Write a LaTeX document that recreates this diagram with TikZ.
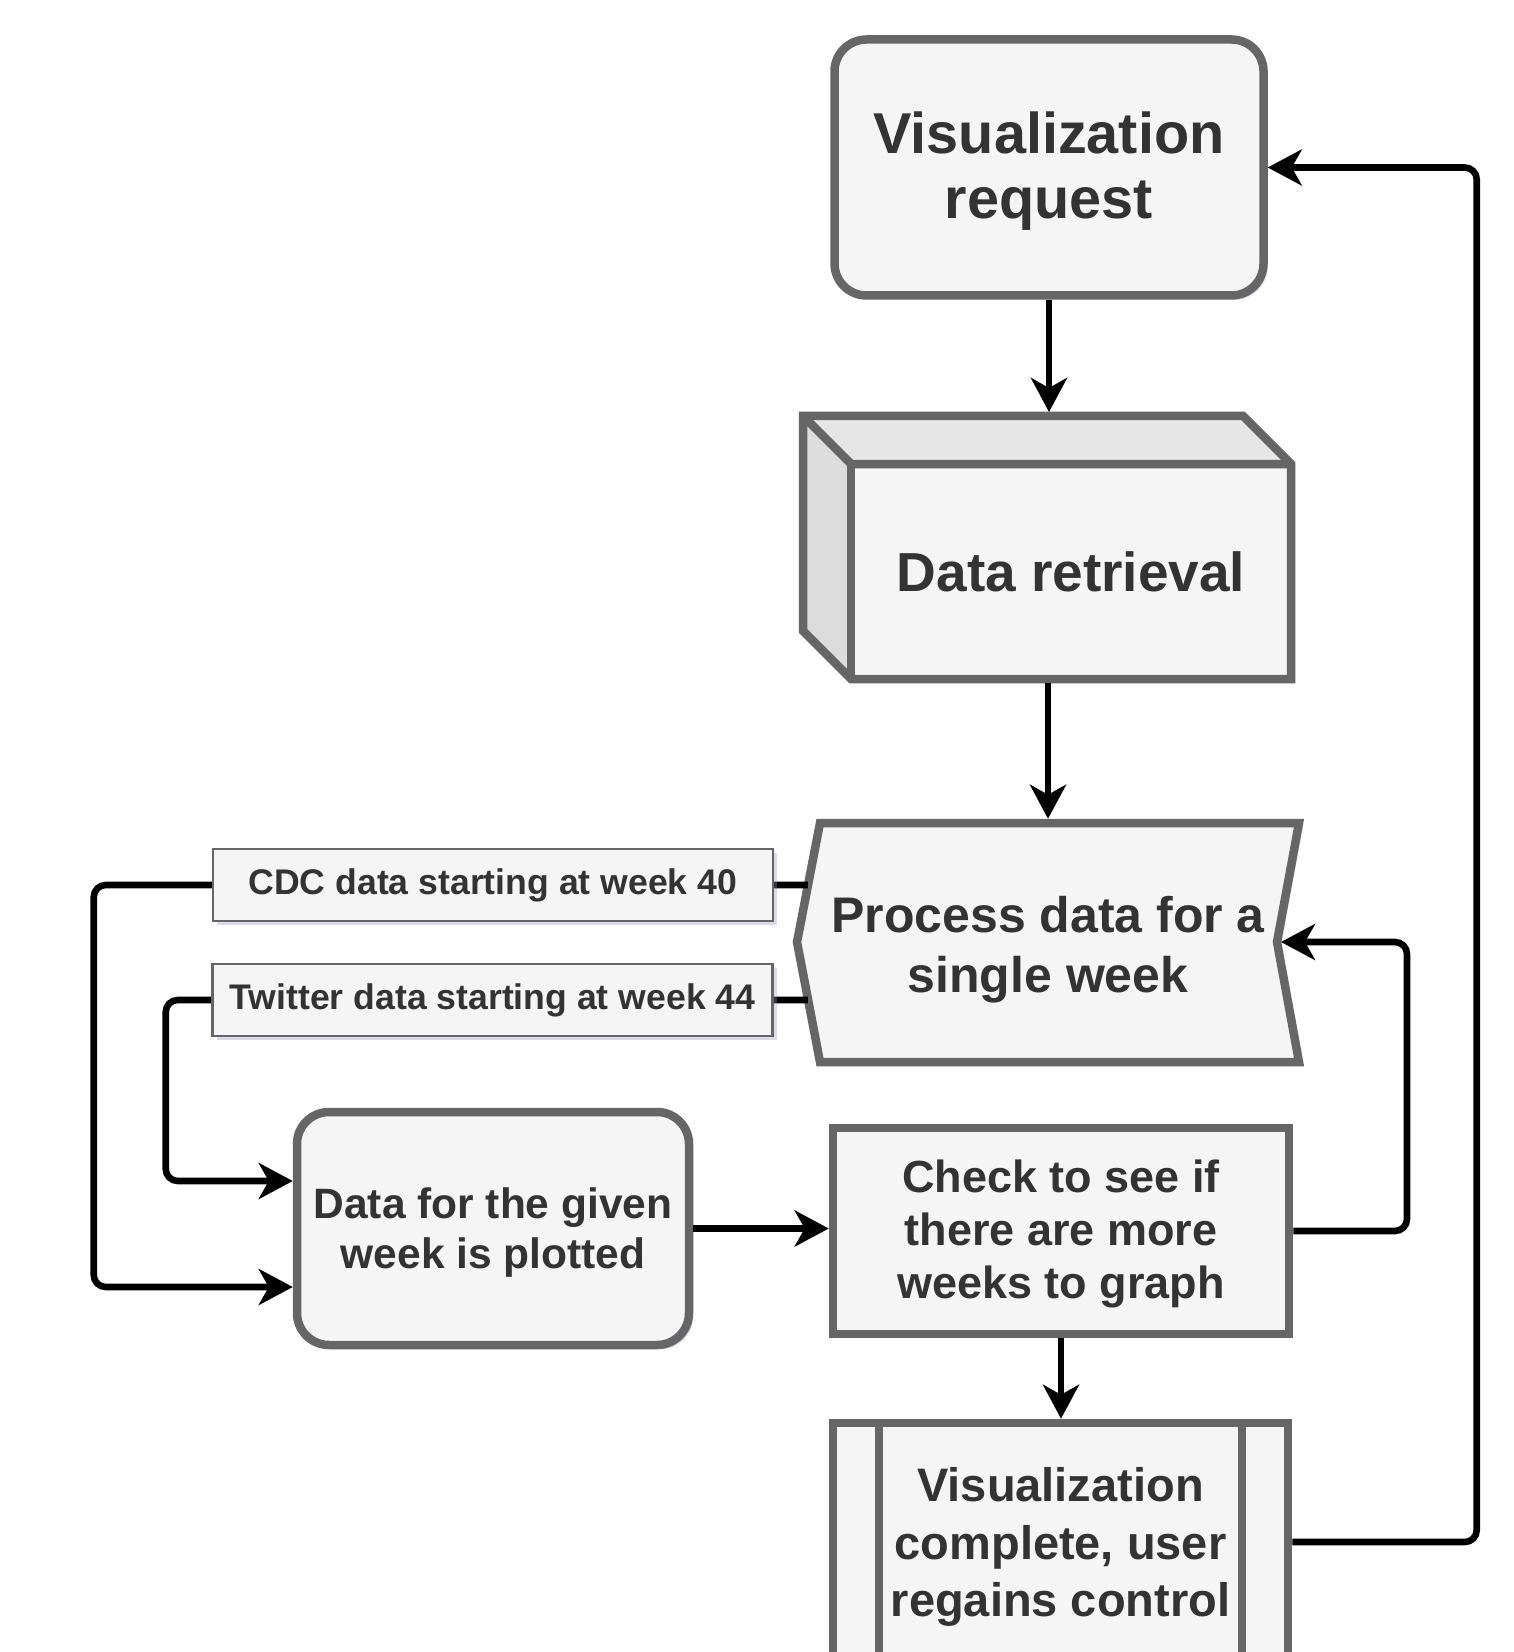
\documentclass[tikz,border=0pt]{standalone}
\usepackage{fontspec}
\setmainfont{Liberation Sans}
\usetikzlibrary{arrows.meta,calc,shadows}
\definecolor{boxfill}{HTML}{F5F5F5}
\definecolor{boxline}{HTML}{666666}
\definecolor{txt}{HTML}{333333}
\definecolor{topface}{HTML}{E6E6E6}
\definecolor{sideface}{HTML}{DCDCDC}
\definecolor{shadowc}{RGB}{150,150,195}
\begin{document}
\begin{tikzpicture}[x=0.5pt,y=-0.5pt,
  shad/.style={drop shadow={shadow xshift=2pt,shadow yshift=-2pt,fill=shadowc,opacity=0.35}},
  base/.style={draw=boxline,line width=4.25pt,fill=boxfill,inner sep=0pt},
  rbox/.style={base,rounded corners=16pt,shad},
  sbox/.style={base,shad},
  tnode/.style={text=txt,align=center,inner sep=0pt},
  face/.style={draw=boxline,line width=4.25pt,line join=miter},
  lbl/.style={draw=boxline,line width=1.2pt,fill=boxfill,text=txt,inner sep=0pt,sharp corners,
    minimum width=280pt,minimum height=36pt,font=\fontsize{17.8}{21}\selectfont\bfseries,shad},
  arr/.style={draw=black,line width=3.3pt,rounded corners=6pt,
    -{Stealth[length=17pt,width=18pt,inset=5pt]}}
]
\clip (0,0) rectangle (1513,1652);
\fill[white] (0,0) rectangle (1513,1652);

% Visualization request
\node[rbox,minimum width=214.5pt,minimum height=128pt] (vr) at (1049,167.5) {};
\node[tnode,yshift=-1.85pt,font=\fontsize{28.8}{32.5}\selectfont\bfseries] (vrt) at (vr.center) {Visualization\\request};

% Data retrieval (3D box)
\fill[shadowc,opacity=0.35,shift={(4,4)}] (803,416) -- (1243,416) -- (1291,464) -- (1291,679) -- (851,679) -- (803,631) -- cycle;
\fill[topface] (803,416) -- (1243,416) -- (1291,464) -- (851,464) -- cycle;
\fill[sideface] (803,416) -- (851,464) -- (851,679) -- (803,631) -- cycle;
\fill[boxfill] (851,464) rectangle (1291,679);
\draw[face] (803,416) -- (1243,416) -- (1291,464) -- (1291,679) -- (851,679) -- (803,631) -- cycle;
\draw[face] (803,416) -- (851,464) -- (1291,464);
\draw[face] (851,464) -- (851,679);
\node[tnode,outer sep=2.125pt,minimum width=220pt,minimum height=107.5pt,
  font=\fontsize{27.5}{32}\selectfont\bfseries] (dr) at (1071,571.5) {Data retrieval};
\coordinate (drtop) at (1049,412);

% Process data for a single week
\fill[shadowc,opacity=0.35,shift={(4,4)}] (820,823) -- (1299,823) -- (1277,942) -- (1299,1062) -- (820,1062) -- (797,942) -- cycle;
\filldraw[face,fill=boxfill] (820,823) -- (1299,823) -- (1277,942) -- (1299,1062) -- (820,1062) -- (797,942) -- cycle;
\node[inner sep=0pt,outer sep=2.125pt,minimum width=251pt,minimum height=119.5pt] (proc) at (1048,942.5) {};
\node[tnode,yshift=-3.4pt,font=\fontsize{25}{30}\selectfont\bfseries] (proct) at (proc.center) {Process data for a\\single week};
\coordinate (notch) at (1281,942);
\coordinate (cdcs) at ($(proc.west)+(15,-57.5)$);
\coordinate (tws) at ($(proc.west)+(15,57.5)$);

% Data plotted
\node[rbox,minimum width=196pt,minimum height=116.5pt] (dp) at (493,1228.5) {};
\node[tnode,yshift=-1.85pt,font=\fontsize{21.25}{25}\selectfont\bfseries] (dpt) at (dp.center) {Data for the given\\week is plotted};

% Check
\node[sbox,minimum width=228pt,minimum height=103pt] (check) at (1061,1231) {};
\node[tnode,yshift=-1.3pt,font=\fontsize{22.5}{26.5}\selectfont\bfseries] (checkt) at (check.center) {Check to see if\\there are more\\weeks to graph};

% Subprocess
\node[sbox,minimum width=227.5pt,minimum height=119pt] (sub) at (1060.5,1542) {};
\draw[draw=boxline,line width=4.25pt] (879,1423) -- (879,1665);
\draw[draw=boxline,line width=4.25pt] (1242,1423) -- (1242,1665);
\node[tnode,yshift=-2.6pt,font=\fontsize{23.5}{28.7}\selectfont\bfseries] (subt) at (sub.center) {Visualization\\complete, user\\regains control};

% Connectors
\draw[arr] (vr.south) -- (vr.south |- drtop);
\draw[arr] (dr.south -| proc.north) -- (proc.north);
\draw[arr] (dp.east) -- (dp.east -| check.west);
\draw[arr] (check.south) -- (check.south |- sub.north);
\draw[arr] (check.east) -| ($(notch)+(126,0)$) -- (notch);
\draw[arr] (sub.east) -| ($(vr.east)+(209,0)$) -- (vr.east);
\draw[arr] (cdcs) -- node[lbl,pos=0.441] (cdc) {CDC data starting at week 40} ++(-714,0) |- ($(dp.west)+(0,58.5)$);
\draw[arr] (tws) -- node[lbl,pos=0.491] (tw) {Twitter data starting at week 44} ++(-642,0) |- ($(dp.west)+(0,-47.5)$);
\end{tikzpicture}
\end{document}
